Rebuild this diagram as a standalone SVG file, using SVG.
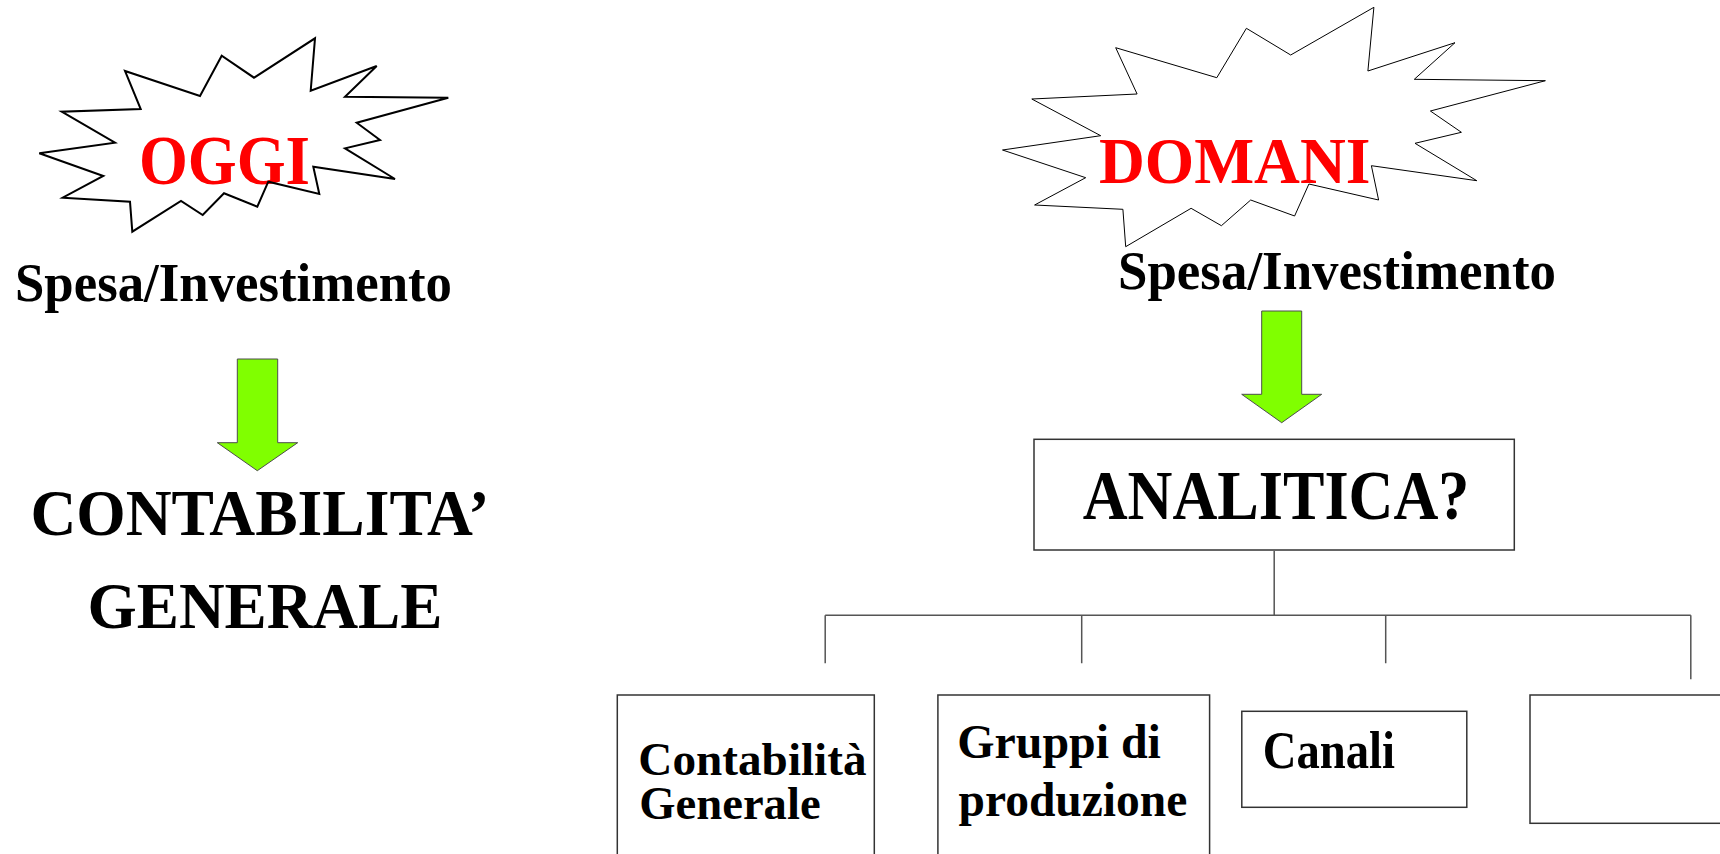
<svg xmlns="http://www.w3.org/2000/svg" width="1720" height="854" viewBox="0 0 1720 854">
<style>
text{font-family:"Liberation Serif","Times New Roman",serif;font-weight:bold;fill:#000}
.red{fill:#FF0000}
.box{fill:#fff;stroke:#333;stroke-width:1.5}
.arrow{fill:#80FF00;stroke:#4d4d4d;stroke-width:1}
.conn{fill:none;stroke:#555;stroke-width:1.5}
</style>
<rect width="1720" height="854" fill="#fff"/>

<g id="oggi">
<text class="red" x="139" y="184" font-size="69" textLength="171" lengthAdjust="spacingAndGlyphs">OGGI</text>
<polygon fill="none" stroke="#000" stroke-width="2" points="315,38.3 310.7,90.7 376.7,66 345,96.7 448.3,97.7 356.7,122.7 380,140 345,148.3 395,179 313.3,166.7 319.3,194 268.3,181.7 257.3,206.7 224,193.3 202.7,215 181,201 132.3,231.7 130,201.7 62.7,197.7 103.3,176 39.3,153.3 115,142.7 61.7,111.7 140.7,109 125,71 200,96 221.7,55.7 254,77.7"/>
</g>

<g id="domani">
<text class="red" x="1099" y="182.7" font-size="64.5" textLength="271.5" lengthAdjust="spacingAndGlyphs">DOMANI</text>
<polygon fill="none" stroke="#000" stroke-width="1" points="1373.9,7.3 1367.9,71 1455,42.7 1414.3,79.3 1545.4,80.7 1430.4,111 1461.4,132.3 1415,143.3 1476.8,180.7 1371.4,165.7 1378.6,200 1308.9,184 1294.6,216 1250.7,200 1221.4,225.7 1191.1,208.3 1125.7,246.7 1122.9,209.3 1034.6,205 1085.7,177.7 1002.5,150 1100.7,135.7 1031.8,99 1137.1,94 1115.7,47.7 1216.8,77.7 1246.4,28.3 1290.7,55"/>
</g>

<g id="spesa-left">
<text x="15" y="301" font-size="54" textLength="437" lengthAdjust="spacingAndGlyphs">Spesa/Investimento</text>
</g>
<g id="spesa-right">
<text x="1118" y="289" font-size="54" textLength="438" lengthAdjust="spacingAndGlyphs">Spesa/Investimento</text>
</g>

<g id="arrow-left">
<polygon class="arrow" points="237.3,359 277.7,359 277.7,442.7 297.7,442.7 257.3,470.7 217.3,442.7 237.3,442.7"/>
</g>
<g id="arrow-right">
<polygon class="arrow" points="1261.7,311 1301.7,311 1301.7,394.3 1321.7,394.3 1281.7,422.7 1241.7,394.3 1261.7,394.3"/>
</g>

<g id="contabilita-generale-title">
<text x="30.4" y="535" font-size="65" textLength="459" lengthAdjust="spacingAndGlyphs">CONTABILITA’</text>
<text x="87.5" y="628.3" font-size="65" textLength="355" lengthAdjust="spacingAndGlyphs">GENERALE</text>
</g>

<g id="analitica">
<rect class="box" x="1034" y="439.3" width="480.3" height="110.7"/>
<text x="1082.7" y="519.3" font-size="69.5" textLength="386.7" lengthAdjust="spacingAndGlyphs">ANALITICA?</text>
</g>

<g id="connectors">
<path class="conn" d="M1274.2,551 V615.3 M825.2,615.3 H1690.8 M825.2,615.3 V663.3 M1081.7,615.3 V663.3 M1385.7,615.3 V663.3 M1690.8,615.3 V679.3"/>
</g>

<g id="box-contabilita">
<rect class="box" x="617.3" y="695" width="257" height="170"/>
<text x="638.3" y="775" font-size="46" textLength="228.3" lengthAdjust="spacingAndGlyphs">Contabilità</text>
<text x="639.3" y="819.3" font-size="46" textLength="181.3" lengthAdjust="spacingAndGlyphs">Generale</text>
</g>

<g id="box-gruppi">
<rect class="box" x="937.9" y="695" width="271.7" height="170"/>
<text x="957.3" y="758.3" font-size="48" textLength="203.6" lengthAdjust="spacingAndGlyphs">Gruppi di</text>
<text x="958.5" y="816" font-size="48" textLength="228.8" lengthAdjust="spacingAndGlyphs">produzione</text>
</g>

<g id="box-canali">
<rect class="box" x="1241.8" y="711.3" width="225" height="96"/>
<text x="1262.7" y="767.7" font-size="52" textLength="132.3" lengthAdjust="spacingAndGlyphs">Canali</text>
</g>

<g id="box-empty">
<rect class="box" x="1530" y="695" width="200" height="128.3"/>
</g>
</svg>
